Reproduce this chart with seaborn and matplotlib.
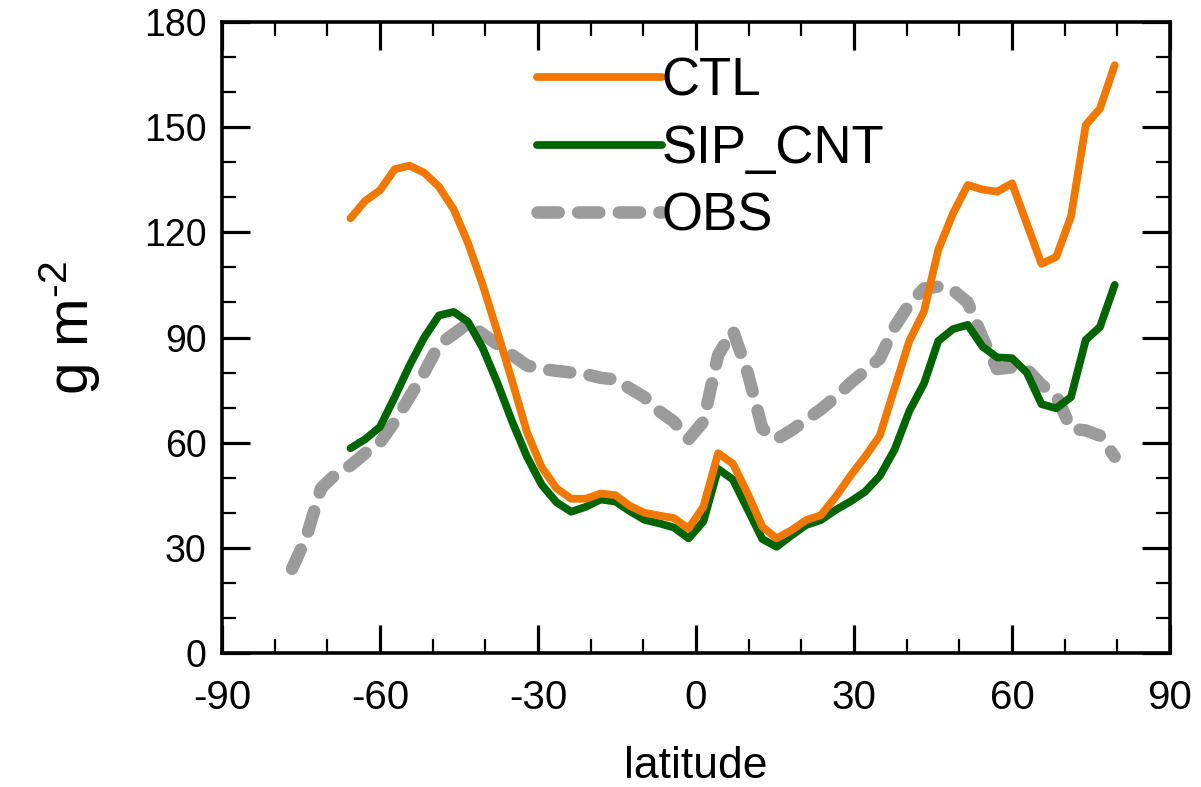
import numpy as np
import pandas as pd
import matplotlib
matplotlib.use("Agg")
import matplotlib.pyplot as plt
import seaborn as sns

# Latitudes (model grid), degrees
lat_obs = [-76.7, -74.0, -71.2, -68.4, -65.6, -62.8, -60.0, -57.2, -54.4, -51.6,
           -48.8, -46.0, -43.3, -40.5, -37.7, -34.9, -32.1, -29.3, -26.5, -23.7,
           -20.9, -18.1, -15.3, -12.6, -9.8, -7.0, -4.2, -1.4, 1.4, 4.2,
           7.0, 9.8, 12.6, 15.3, 18.1, 20.9, 23.7, 26.5, 29.3, 32.1,
           34.9, 37.7, 40.5, 43.3, 46.0, 48.8, 51.6, 54.4, 57.2, 60.0,
           62.8, 65.6, 68.4, 71.2, 74.0, 76.7, 79.5]
lat_mod = lat_obs[4:]

ctl = [124.0, 129.0, 132.0, 138.0, 139.0, 137.0, 133.0, 126.5, 117.0, 105.0,
       91.5, 77.5, 63.0, 53.0, 47.0, 44.0, 44.0, 45.5, 45.0, 42.0,
       40.0, 39.2, 38.5, 35.5, 41.7, 57.0, 54.0, 45.5, 36.0, 32.7,
       35.0, 37.9, 39.3, 44.5, 50.5, 56.0, 62.0, 75.5, 89.0, 97.5,
       115.0, 125.4, 133.5, 132.2, 131.6, 134.0, 122.5, 111.0, 113.0, 124.5,
       150.6, 155.3, 167.7]

sip_cnt = [58.4, 61.0, 64.5, 73.0, 82.0, 90.0, 96.3, 97.3, 94.5, 87.0,
           77.0, 66.0, 56.0, 48.0, 43.0, 40.3, 41.7, 43.8, 43.2, 40.5,
           38.0, 37.0, 35.8, 32.7, 37.5, 52.5, 49.5, 41.0, 32.5, 30.3,
           33.5, 36.5, 37.9, 40.8, 43.2, 46.0, 50.5, 58.0, 69.0, 76.9,
           89.0, 92.4, 93.6, 87.4, 84.3, 84.1, 80.0, 71.0, 69.8, 73.0,
           89.3, 93.0, 105.0]

obs = [24.0, 33.0, 47.0, 51.0, 53.5, 57.0, 60.0, 66.0, 73.0, 80.0,
       88.0, 91.0, 94.0, 91.0, 88.0, 85.0, 82.0, 81.0, 80.5, 80.0,
       79.5, 78.5, 78.0, 75.5, 73.0, 69.0, 66.0, 61.0, 66.0, 85.0,
       92.0, 80.0, 64.0, 61.0, 63.5, 66.5, 69.5, 73.0, 77.0, 80.5,
       84.0, 93.0, 99.5, 104.0, 104.5, 103.5, 100.0, 90.0, 81.0, 81.5,
       81.0, 76.5, 73.5, 64.0, 63.5, 62.0, 56.0]

xticks = [-90, -60, -30, 0, 30, 60, 90]
yticks = [0, 30, 60, 90, 120, 150, 180]

df_ctl = pd.DataFrame({"lat": lat_mod, "val": ctl})
df_sip = pd.DataFrame({"lat": lat_mod, "val": sip_cnt})
df_obs = pd.DataFrame({"lat": lat_obs, "val": obs})

sns.set_theme(style="white")
plt.rcParams["font.family"] = ["Liberation Sans", "DejaVu Sans"]
plt.rcParams["mathtext.fontset"] = "custom"
plt.rcParams["mathtext.rm"] = "Liberation Sans"
plt.rcParams["mathtext.it"] = "Liberation Sans"
plt.rcParams["mathtext.default"] = "regular"
plt.rcParams["text.color"] = "black"
plt.rcParams["axes.labelcolor"] = "black"
plt.rcParams["xtick.color"] = "black"
plt.rcParams["ytick.color"] = "black"
plt.rcParams["axes.unicode_minus"] = False
plt.rcParams["lines.dash_capstyle"] = "round"
plt.rcParams["lines.solid_capstyle"] = "round"
plt.rcParams["lines.solid_joinstyle"] = "round"
plt.rcParams["lines.dash_joinstyle"] = "round"

fig = plt.figure(figsize=(12.01, 7.87), dpi=100)
ax = fig.add_axes([222 / 1201, 1 - 653 / 787, 948 / 1201, 631 / 787])

c_ctl = "#F07800"
c_sip = "#006400"
c_obs = "#9B9B9B"

sns.lineplot(data=df_obs, x="lat", y="val", ax=ax, color=c_obs, linewidth=9,
             label="OBS", zorder=1)
ax.lines[-1].set_dashes((1.7, 1.55))
sns.lineplot(data=df_sip, x="lat", y="val", ax=ax, color=c_sip, linewidth=5.6,
             label="SIP_CNT", zorder=2)
sns.lineplot(data=df_ctl, x="lat", y="val", ax=ax, color=c_ctl, linewidth=5.6,
             label="CTL", zorder=3)

ax.set_xlim(-90, 90)
ax.set_ylim(0, 180)
ax.set_xticks(xticks)
ax.set_yticks(yticks)
ax.set_xticks(np.arange(-90, 91, 10), minor=True)
ax.set_yticks(np.arange(0, 181, 10), minor=True)
ax.set_xticklabels([str(v) for v in xticks], fontsize=29)
ax.set_yticklabels([str(v) for v in yticks], fontsize=27)

ax.tick_params(which="major", direction="in", length=20, width=2.3,
               top=True, right=True, bottom=True, left=True, color="black")
ax.tick_params(which="minor", direction="in", length=10, width=1.6,
               top=True, right=True, bottom=True, left=True, color="black")
ax.tick_params(axis="y", which="major", pad=11)
ax.tick_params(axis="x", which="major", pad=19)
for s in ax.spines.values():
    s.set_visible(True)
    s.set_linewidth(2.6)
    s.set_color("black")

ax.set_xlabel("latitude", fontsize=32)
ax.set_ylabel("g m$^{\u20102}$", fontsize=42)
ax.xaxis.set_label_coords(0.5, -0.18)
ax.xaxis.label.set_va("center")
ax.yaxis.set_label_coords(-0.16, 0.515)
ax.yaxis.label.set_va("center")

handles, labels = ax.get_legend_handles_labels()
order = [labels.index(n) for n in ["CTL", "SIP_CNT", "OBS"]]
leg = ax.legend([handles[i] for i in order], [labels[i] for i in order],
                loc="upper left", bbox_to_anchor=(0.332, 0.945), frameon=False,
                fontsize=38, handlelength=2.37, handletextpad=0.0,
                labelspacing=0.33, borderpad=0, borderaxespad=0)

fig.savefig("out.png", dpi=100)
